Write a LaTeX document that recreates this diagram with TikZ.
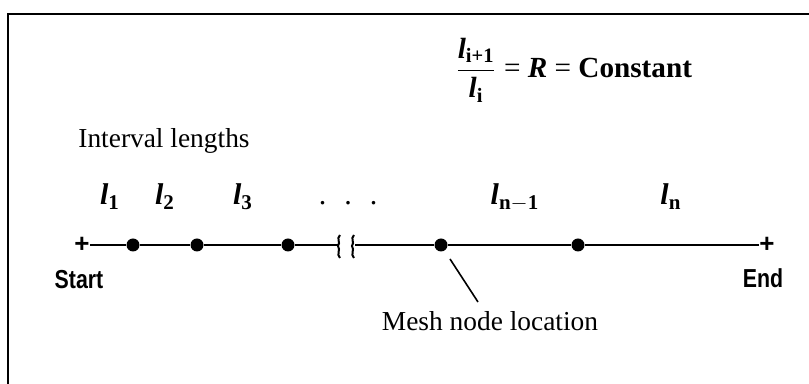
\documentclass[tikz,border=0pt]{standalone}
\usepackage{fontspec}
\usepackage{graphicx}
\setmainfont{Liberation Serif}
\setsansfont{Liberation Sans}
\usetikzlibrary{positioning}
\newcommand{\seglen}[1]{\textbf{\textit{l}}\textsubscript{\textbf{#1}}}
\newcommand{\narrow}[1]{\scalebox{0.82}[1]{#1}}

\begin{document}
\begin{tikzpicture}[
  x=0.5pt, y=-0.5pt,
  frame/.style={line width=1.1pt},
  axis/.style={line width=0.8pt},
  mesh/.style={circle, fill=black, inner sep=0pt, minimum size=6.5pt},
  endpt/.style={inner sep=0pt, font=\sffamily\bfseries\fontsize{13}{13}\selectfont},
  endlabel/.style={inner sep=0pt, font=\sffamily\bfseries\fontsize{13}{14}\selectfont},
  seg/.style={font=\fontsize{15}{16}\selectfont, anchor=base},
  caption/.style={font=\fontsize{13.7}{15}\selectfont, inner sep=0pt},
  leader/.style={line width=0.8pt}
]
\useasboundingbox (0,0) rectangle (809,384);
\draw[frame] (8,384) -- (8,14) -- (809,14);
% grid points
\node[endpt] (start) at (82,245) {+};
\node[mesh] (n1) at (133,245) {};
\node[mesh] (n2) at (197,245) {};
\node[mesh] (n3) at (288,245) {};
\coordinate (brkL) at (338,245);
\coordinate (brkR) at (355,245);
\node[mesh] (n4) at (441,245) {};
\node[mesh] (n5) at (578,245) {};
\node[endpt] (finish) at (767,245) {+};
\draw[axis] (start) -- (n1) -- (n2) -- (n3) -- (brkL);
\draw[axis] (brkR) -- (n4) -- (n5) -- (finish);
% break marks
\foreach \bx in {340,354}
  \draw[line width=1pt] (\bx,235) .. controls (\bx-4,239) and (\bx+1,242) .. (\bx-2,246)
    .. controls (\bx+1,250) and (\bx-4,254) .. (\bx,258);
\node[endlabel] (startlab) at (79,280) {\narrow{Start}};
\node[endlabel] (endlab) at (763,278) {\narrow{End}};
% interval lengths
\node[caption, anchor=base west] (intlab) at (78,148) {Interval lengths};
\node[seg] (l1) at (110,205) {\seglen{1}};
\node[seg] (l2) at (165,205) {\seglen{2}};
\node[seg] (l3) at (243,205) {\seglen{3}};
\node[seg] (ldots) at (348,205) {.\hspace{0.6em}.\hspace{0.6em}.};
\node[seg] (lnm) at (515,205) {\seglen{n$-$1}};
\node[seg] (ln) at (671,205) {\seglen{n}};
% mesh node callout
\node[caption, anchor=base] (meshlab) at (490,331) {Mesh node location};
\coordinate (lead1) at (450,259);
\coordinate (lead2) at (478,302);
\draw[leader] (lead1) -- (lead2);
% ratio
\node[anchor=base west, inner sep=0pt, font=\fontsize{14.6}{16}\selectfont] (ratio) at (455,78)
  {$\displaystyle\frac{\mbox{\seglen{i+1}}}{\mbox{\seglen{i}}}$ = \textbf{\textit{R}} = \textbf{Constant}};
\end{tikzpicture}
\end{document}
